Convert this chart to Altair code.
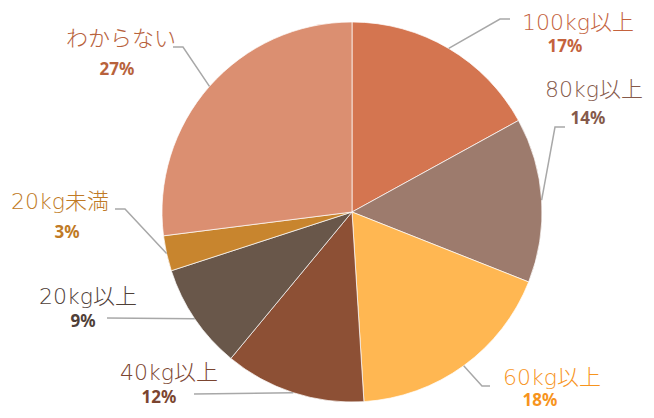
import math
import altair as alt
import pandas as pd

# ---- data ----
categories = ["100kg以上", "80kg以上", "60kg以上", "40kg以上", "20kg以上", "20kg未満", "わからない"]
values = [17, 14, 18, 12, 9, 3, 27]

# ---- styles ----
slice_colors = ["#D47550", "#9D7B6D", "#FFB752", "#8D5035", "#69574A", "#C8852E", "#DB8F71"]
label_colors = ["#C4623D", "#85594A", "#F7941D", "#7B4530", "#4F4038", "#C07A25", "#B8623C"]
NAME_FONT = '"DejaVu Sans", "Noto Sans CJK JP", sans-serif'
PCT_FONT = '"Noto Sans", "DejaVu Sans", sans-serif'

W, H = 638, 402
CX, CY = 344, 204
R = 190

# label layout (offsets from pie centre, px; y downward)
name_pos = [(226, -189), (242, -122), (200, 166), (-183, 161), (-264, 85), (-292, -10), (-231, -173)]
pct_pos = [(213, -165), (236, -93), (188, 189), (-193, 186), (-269, 110), (-285, 21), (-235, -142)]
elbows = [[(148, -193), (158, -193)],
          [(203, -85), (213, -85)],
          [(130, 174), (138, 174)],
          [(-158, 182)],
          [(-245, 106)],
          [(-227, -3), (-237, -3)],
          [(-169, -165), (-179, -165)]]

total = sum(values)
rows, lines, labels = [], [], []
cum = 0
for i, (c, v) in enumerate(zip(categories, values)):
    rows.append({"cat": c, "value": v, "idx": i})
    mid = (cum + v / 2) / total * 2 * math.pi
    cum += v
    rim = (R * math.sin(mid), -R * math.cos(mid))
    pts = [rim] + elbows[i]
    for j, (px, py) in enumerate(pts):
        lines.append({"cat": c, "k": j, "x": px, "y": py})
    labels.append({"cat": c, "nx": name_pos[i][0], "ny": name_pos[i][1],
                   "px": pct_pos[i][0], "py": pct_pos[i][1],
                   "pct": f"{round(v / total * 100)}%", "col": label_colors[i]})

df = pd.DataFrame(rows)
dl = pd.DataFrame(lines)
dt = pd.DataFrame(labels)

xs = alt.Scale(domain=[-CX, W - CX], range=[0, W])
ys = alt.Scale(domain=[-CY, H - CY], range=[0, H])

pie = alt.Chart(df).mark_arc(radius=R, stroke="white", strokeWidth=0.7).encode(
    theta=alt.Theta("value:Q", stack=True),
    order=alt.Order("idx:Q"),
    color=alt.Color("cat:N", scale=alt.Scale(domain=categories, range=slice_colors), legend=None),
    x=alt.value(CX), y=alt.value(CY),
)

leaders = alt.Chart(dl).mark_line(color="#A8A8A8", strokeWidth=1.5).encode(
    x=alt.X("x:Q", scale=xs, axis=None),
    y=alt.Y("y:Q", scale=ys, axis=None),
    detail="cat:N",
    order="k:Q",
)

names = alt.Chart(dt).mark_text(font=NAME_FONT, fontSize=22, fontWeight=200,
                                 baseline="middle", align="center").encode(
    x=alt.X("nx:Q", scale=xs, axis=None),
    y=alt.Y("ny:Q", scale=ys, axis=None),
    text="cat:N",
    color=alt.Color("col:N", scale=None),
)

pcts = alt.Chart(dt).mark_text(font=PCT_FONT, fontSize=17, fontWeight="bold",
                                baseline="middle", align="center").encode(
    x=alt.X("px:Q", scale=xs, axis=None),
    y=alt.Y("py:Q", scale=ys, axis=None),
    text="pct:N",
    color=alt.Color("col:N", scale=None),
)

chart = alt.layer(pie, leaders, names, pcts).resolve_scale(color="independent").properties(
    width=W, height=H, padding=0, autosize=alt.AutoSizeParams(type="none")
).configure_view(stroke=None)

chart.save("out.html", embed_options={"renderer": "svg", "actions": False})
